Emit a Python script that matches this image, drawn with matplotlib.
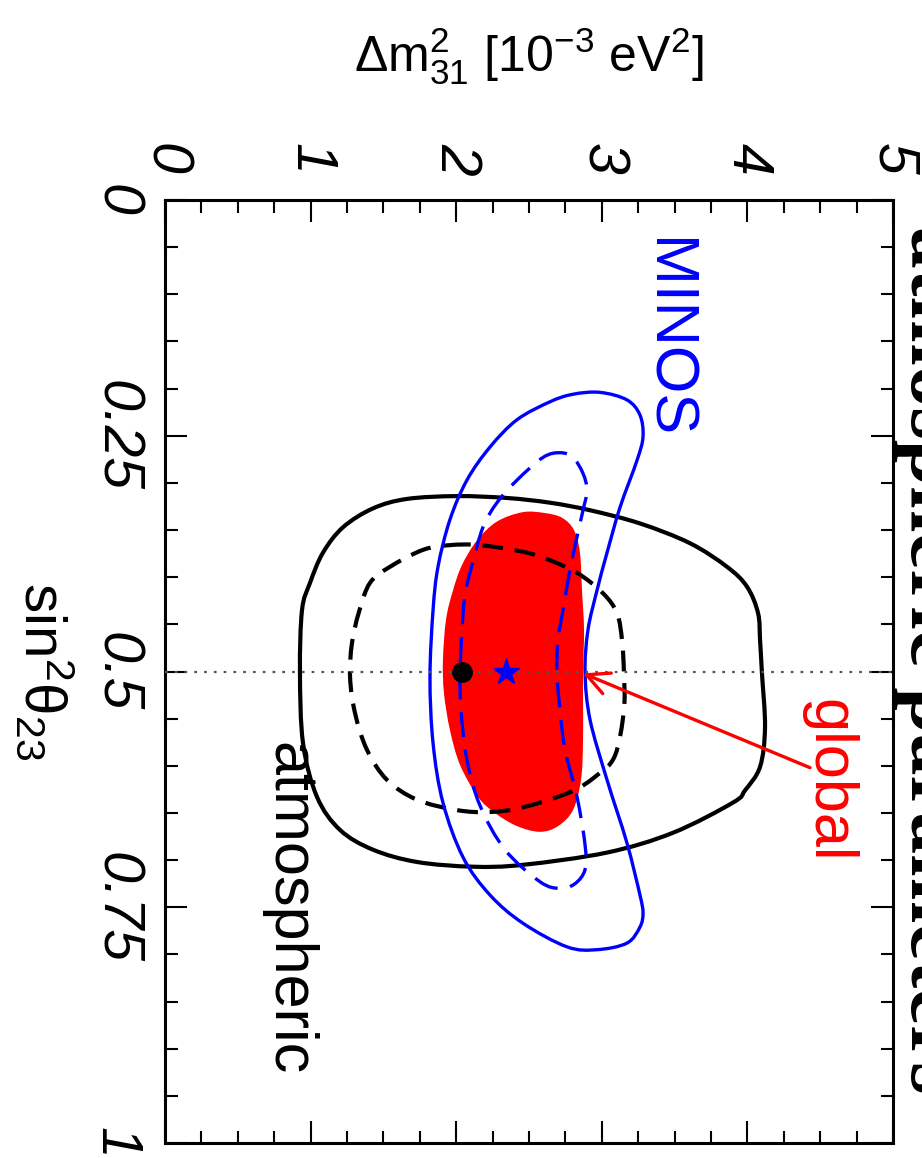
import numpy as np
import matplotlib
matplotlib.use('Agg')
import matplotlib.pyplot as plt
from matplotlib.ticker import MultipleLocator
from matplotlib.path import Path
from matplotlib.patches import PathPatch

plt.rcParams['font.family'] = 'Liberation Sans'
plt.rcParams['mathtext.fontset'] = 'custom'
plt.rcParams['mathtext.rm'] = 'Liberation Sans'
plt.rcParams['mathtext.it'] = 'Liberation Sans:italic'

# contours: dm2 in 1e-3 eV^2, s23 = sin^2(theta23)
atm99_dm2 = [2.005, 2.349, 2.644, 2.919, 3.262, 3.606, 3.860, 3.997, 4.073, 4.087,
             4.100, 4.121, 4.087, 3.984, 3.901, 3.489, 3.036, 2.459, 2.115, 1.731,
             1.429, 1.202, 1.044, 0.948, 0.927, 0.941, 0.996, 1.085, 1.223, 1.429, 1.662]
atm99_s23 = [0.314, 0.316, 0.321, 0.329, 0.343, 0.364, 0.389, 0.410, 0.438, 0.467,
             0.502, 0.559, 0.601, 0.626, 0.639, 0.671, 0.692, 0.705, 0.707, 0.702,
             0.689, 0.668, 0.633, 0.576, 0.501, 0.435, 0.406, 0.374, 0.347, 0.327, 0.317]

atm90_dm2 = [1.957, 2.163, 2.459, 2.644, 2.837, 3.008, 3.104, 3.139, 3.152, 3.152,
             3.091, 2.967, 2.782, 2.459, 2.232, 2.005, 1.731, 1.525, 1.387, 1.305,
             1.271, 1.284, 1.332, 1.408, 1.545, 1.772]
atm90_s23 = [0.366, 0.366, 0.373, 0.382, 0.396, 0.417, 0.438, 0.467, 0.502, 0.541,
             0.589, 0.610, 0.628, 0.644, 0.649, 0.647, 0.636, 0.615, 0.583, 0.544,
             0.506, 0.470, 0.437, 0.406, 0.389, 0.371]

minos90_dm2 = [2.988, 3.173, 3.262, 3.283, 3.242, 3.125, 3.036, 2.967, 2.905, 2.885,
               2.919, 3.036, 3.173, 3.262, 3.283, 3.262, 3.173, 2.967, 2.761, 2.459,
               2.232, 2.047, 1.909, 1.841, 1.820, 1.841, 1.875, 1.957, 2.074, 2.232,
               2.418, 2.644, 2.802]
minos90_s23 = [0.204, 0.212, 0.228, 0.251, 0.276, 0.326, 0.374, 0.414, 0.456, 0.501,
               0.551, 0.615, 0.682, 0.737, 0.756, 0.771, 0.788, 0.795, 0.792, 0.767,
               0.737, 0.697, 0.639, 0.576, 0.506, 0.435, 0.389, 0.339, 0.297, 0.262,
               0.233, 0.214, 0.206]

minos68_dm2 = [2.596, 2.713, 2.802, 2.871, 2.898, 2.871, 2.830, 2.782, 2.740, 2.699,
               2.692, 2.713, 2.747, 2.830, 2.885, 2.885, 2.816, 2.713, 2.576, 2.335,
               2.163, 2.074, 2.033, 2.026, 2.040, 2.060, 2.109, 2.184, 2.280, 2.418]
minos68_s23 = [0.273, 0.268, 0.273, 0.290, 0.308, 0.329, 0.357, 0.392, 0.429, 0.467,
               0.502, 0.541, 0.583, 0.633, 0.684, 0.710, 0.725, 0.730, 0.723, 0.689,
               0.642, 0.594, 0.541, 0.502, 0.456, 0.419, 0.387, 0.347, 0.321, 0.297]

global_dm2 = [2.459, 2.610, 2.727, 2.809, 2.850, 2.864, 2.878, 2.871, 2.871, 2.857,
              2.802, 2.699, 2.576, 2.418, 2.266, 2.150, 2.026, 1.957, 1.916, 1.909,
              1.930, 1.978, 2.040, 2.143, 2.280]
global_s23 = [0.331, 0.332, 0.337, 0.350, 0.374, 0.414, 0.456, 0.502, 0.573, 0.615,
              0.647, 0.664, 0.670, 0.664, 0.650, 0.633, 0.599, 0.562, 0.523, 0.488,
              0.445, 0.414, 0.387, 0.361, 0.341]

best_atm = (2.04, 0.5)
best_minos = (2.34, 0.5)

dm2_ticks = [0, 1, 2, 3, 4, 5]
dm2_labels = ['0', '1', '2', '3', '4', '5']
s23_ticks = [0, 0.25, 0.5, 0.75, 1]
s23_labels = ['0', '0.25', '0.5', '0.75', '1']


def closed_curve(xs, ys):
    """Smooth closed path through the contour points (Catmull-Rom as cubic Beziers)"""
    pts = np.column_stack([xs, ys])
    n = len(pts)
    verts = [pts[0]]
    codes = [Path.MOVETO]
    for i in range(n):
        p0, p1, p2, p3 = pts[i - 1], pts[i], pts[(i + 1) % n], pts[(i + 2) % n]
        verts += [p1 + (p2 - p0) / 6, p2 - (p3 - p1) / 6, p2]
        codes += [Path.CURVE4] * 3
    return Path(verts, codes)


fig = plt.figure(figsize=(9.22, 11.58), dpi=100)
ax = fig.add_axes([165 / 922, 15 / 1158, 728 / 922, 943 / 1158])

ax.add_patch(PathPatch(closed_curve(global_dm2, global_s23), facecolor='red',
                       edgecolor='none', zorder=1))
ax.add_patch(PathPatch(closed_curve(atm99_dm2, atm99_s23), facecolor='none',
                       edgecolor='black', lw=3.0, zorder=3))
ax.add_patch(PathPatch(closed_curve(atm90_dm2, atm90_s23), facecolor='none',
                       edgecolor='black', lw=3.0, linestyle=(0, (5, 2.8)), zorder=3))
ax.add_patch(PathPatch(closed_curve(minos90_dm2, minos90_s23), facecolor='none',
                       edgecolor='blue', lw=2.4, zorder=4))
ax.add_patch(PathPatch(closed_curve(minos68_dm2, minos68_s23), facecolor='none',
                       edgecolor='blue', lw=2.4, linestyle=(0, (7.5, 3.8)), zorder=4))

ax.axhline(0.5, color='#555555', lw=1.6, linestyle=(0, (1.2, 3.2)), zorder=5)

ax.plot(*best_atm, 'o', color='black', ms=14, zorder=6)
ax.plot(*best_minos, '*', color='blue', ms=20, mec='blue', zorder=6)

ax.annotate('', xy=(2.871, 0.502), xytext=(4.43, 0.602),
            arrowprops=dict(arrowstyle='->,head_length=1.6,head_width=0.8',
                            color='red', lw=2.4, shrinkA=0, shrinkB=0), zorder=7)

ax.text(3.44, 0.146, 'MINOS', color='blue', rotation=-90, ha='center', va='center', fontsize=44)
ax.text(4.55, 0.616, 'global', color='red', rotation=-90, ha='center', va='center', fontsize=44)
ax.text(0.845, 0.751, 'atmospheric', color='black', rotation=-90, ha='center', va='center',
        fontsize=44)

ax.text(1.0, 0.512, 'atmospheric parameters', transform=ax.transAxes, rotation=-90,
        ha='left', va='center', fontsize=60, fontweight='bold', family='Liberation Serif')

ax.set_xlim(0, 5)
ax.set_ylim(1, 0)
ax.set_xticks(dm2_ticks)
ax.set_xticklabels(dm2_labels)
ax.set_yticks(s23_ticks)
ax.set_yticklabels(s23_labels)
ax.xaxis.set_minor_locator(MultipleLocator(0.25))
ax.yaxis.set_minor_locator(MultipleLocator(0.05))

ax.tick_params(axis='x', which='both', top=True, bottom=True, labeltop=True, labelbottom=False,
               direction='in')
ax.tick_params(axis='y', which='both', left=True, right=True, direction='in')
ax.tick_params(which='major', length=16, width=1.5, labelsize=41)
ax.tick_params(which='minor', length=9, width=1.5)
ax.tick_params(axis='x', pad=18)
ax.tick_params(axis='y', pad=16)
for lbl in ax.get_xticklabels() + ax.get_yticklabels():
    lbl.set_rotation(-90)
    lbl.set_style('italic')
for lbl in ax.get_yticklabels():
    lbl.set_verticalalignment('center')
for sp in ax.spines.values():
    sp.set_linewidth(2.2)

ax.set_xlabel(r'$\Delta\mathrm{m}^2_{31}$ [10$^{-3}$ eV$^2$]', fontsize=36, va='center')
ax.xaxis.set_label_position('top')
ax.xaxis.set_label_coords(0.5, 1.136)
ax.set_ylabel(r'$\mathrm{sin}^2\mathrm{\theta}_{23}$', fontsize=42, rotation=-90,
              ha='center', va='center')
ax.yaxis.set_label_coords(-0.166, 0.5)

fig.savefig('out.png', dpi=100)
